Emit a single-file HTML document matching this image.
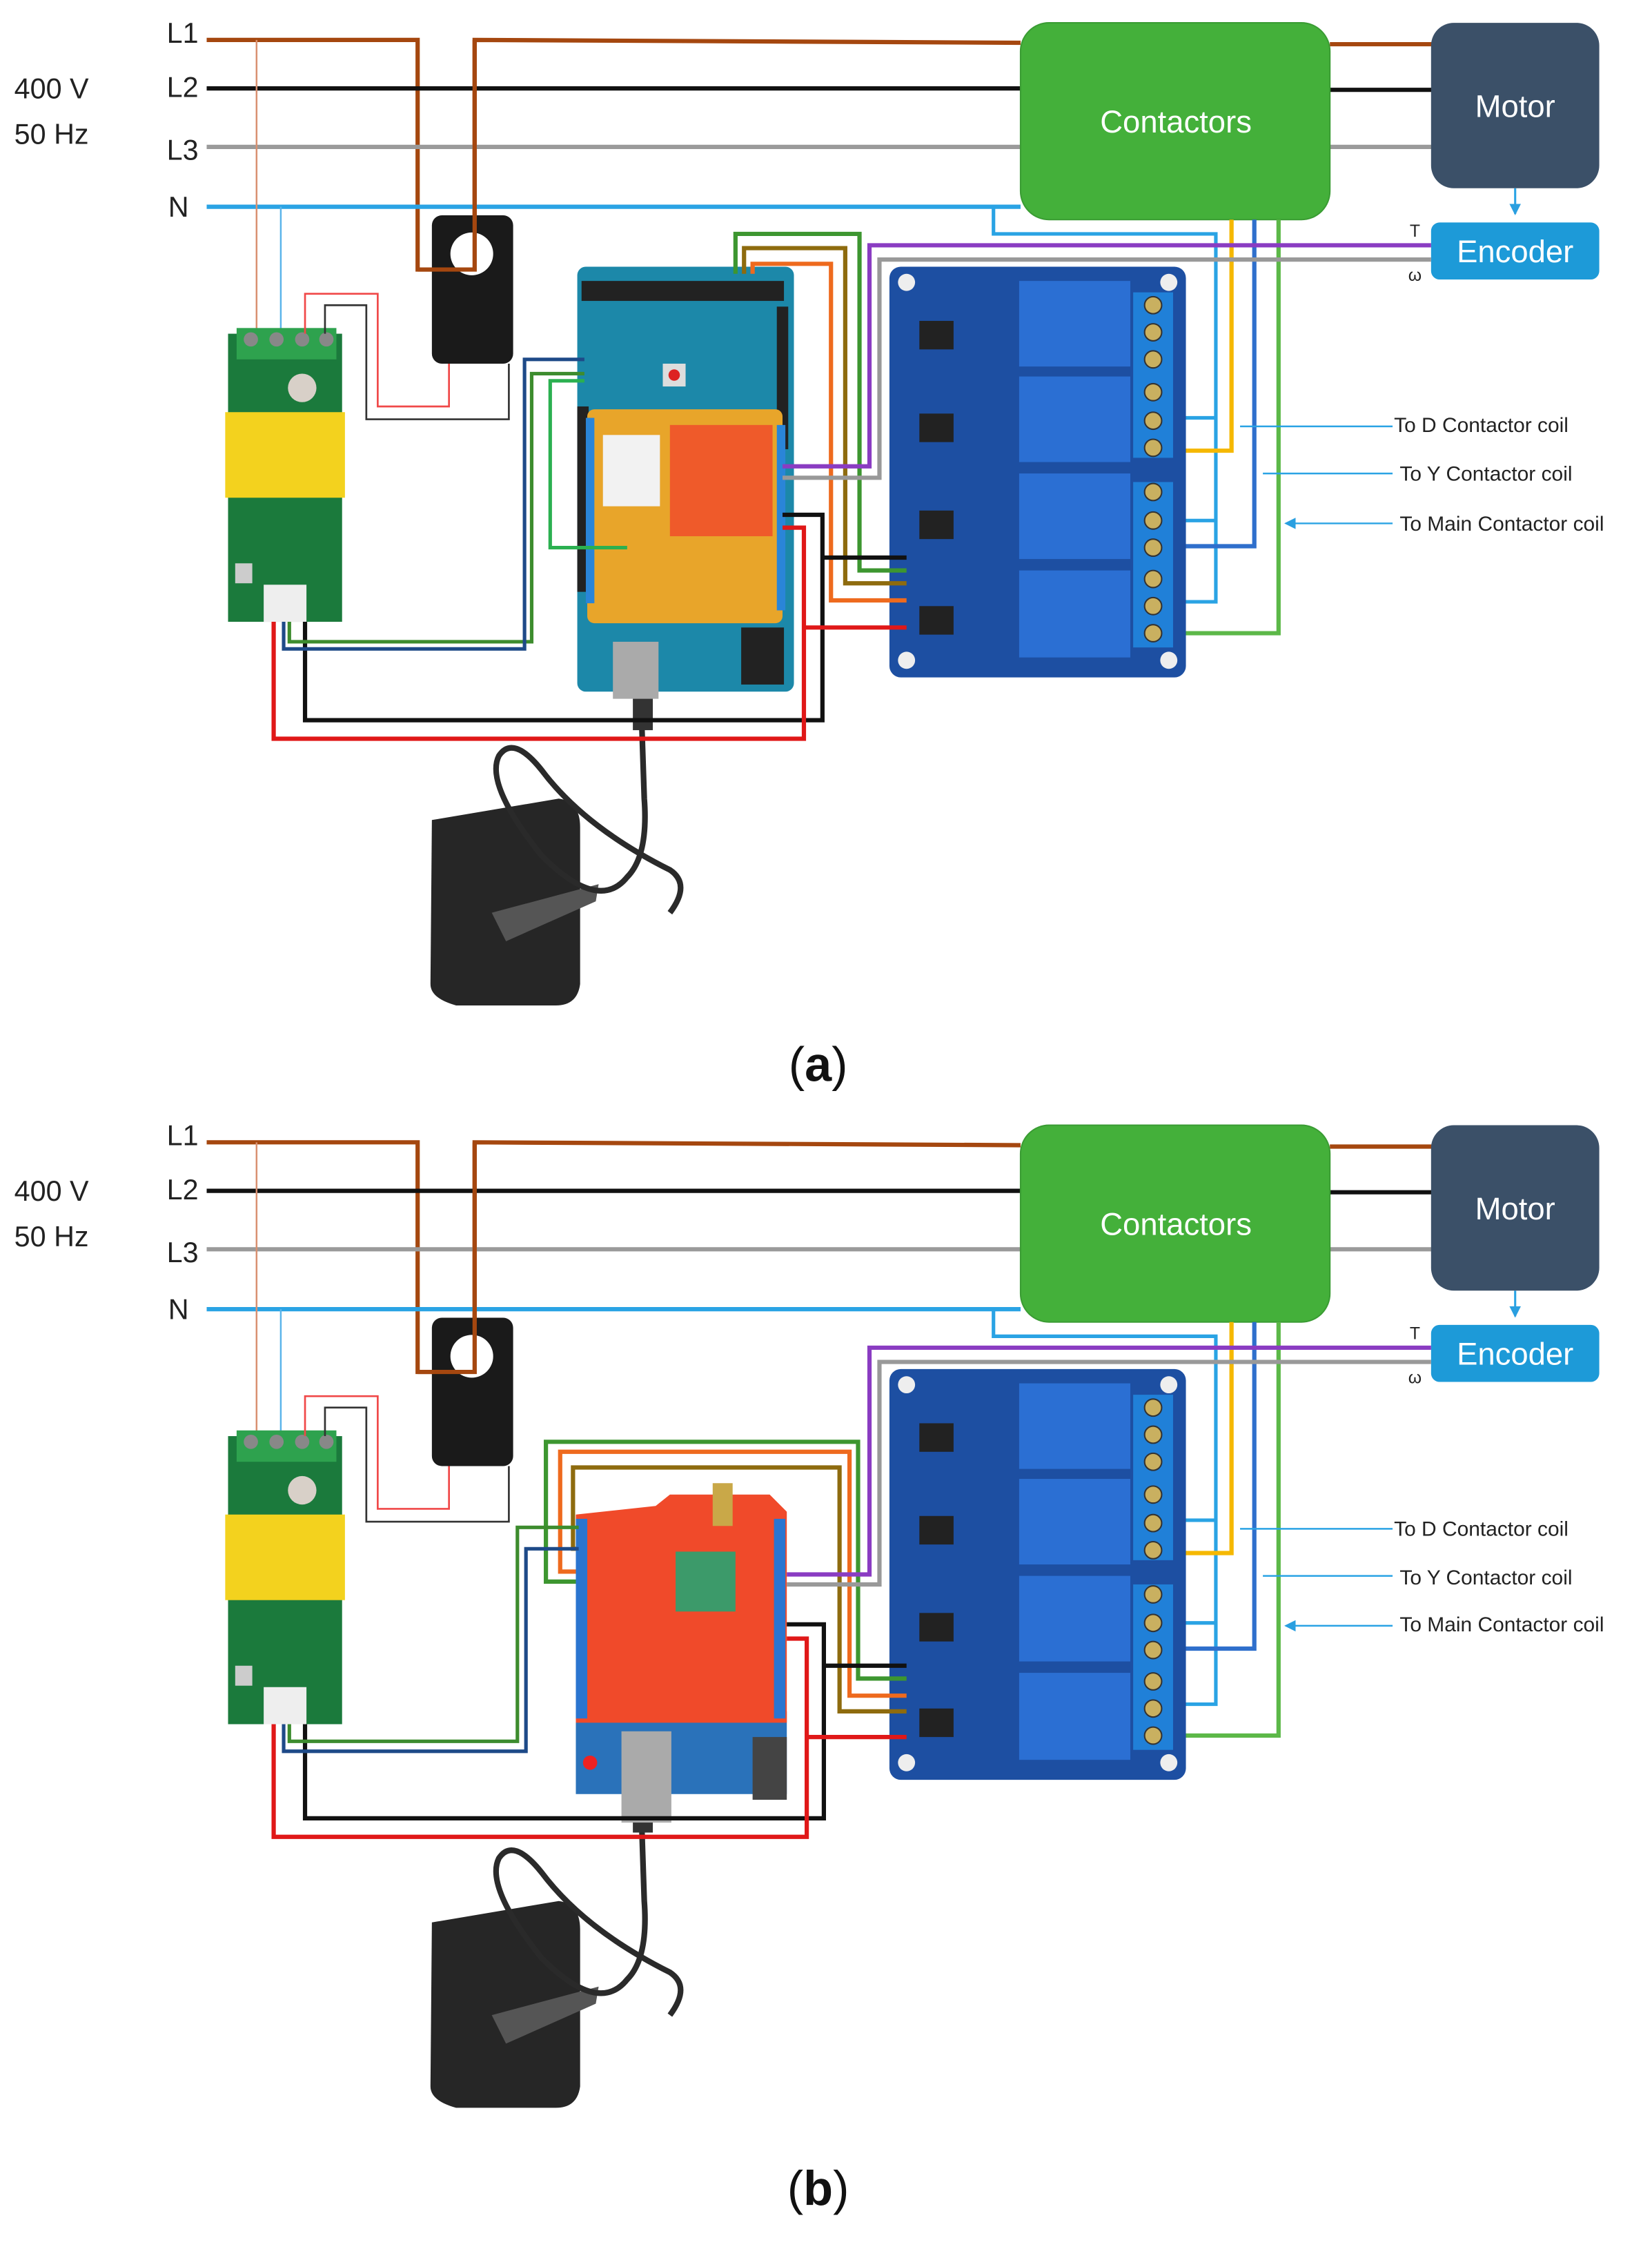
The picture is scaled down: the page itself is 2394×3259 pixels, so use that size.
<!DOCTYPE html>
<html><head><meta charset="utf-8"><style>
html,body{margin:0;padding:0;background:#fff}
svg{display:block}
text{font-family:"Liberation Sans",sans-serif}
</style></head><body>
<svg width="2394" height="3259" viewBox="0 0 1159 1577" preserveAspectRatio="none" xmlns="http://www.w3.org/2000/svg">
<defs>
<marker id="ar" markerWidth="8" markerHeight="8" refX="7" refY="4" orient="auto" markerUnits="userSpaceOnUse"><path d="M0,0 L8,4 L0,8 z" fill="#2a9fe0"/></marker>
<g id="common">
  <!-- power lines -->
  <path d="M145 28 H293 V189 H333 V28 L716 30" fill="none" stroke="#a5470f" stroke-width="3"/>
  <path d="M933 31 H1005" stroke="#a5470f" stroke-width="3"/>
  <path d="M145 62 H716 M933 63 H1005" stroke="#111" stroke-width="3"/>
  <path d="M145 103 H716 M933 103 H1005" stroke="#9a9a9a" stroke-width="3"/>
  <path d="M145 145 H716" stroke="#2aa3e4" stroke-width="3"/>
  <path d="M180 28 V234" stroke="#d89070" stroke-width="1.2"/>
  <path d="M197 145 V234" stroke="#5ab4ea" stroke-width="1.2"/>
  <!-- blocks -->
  <rect x="716" y="16" width="217" height="138" rx="20" fill="#44b03a" stroke="#3a9c33"/>
  <rect x="1004" y="16" width="118" height="116" rx="16" fill="#3b5068"/>
  <rect x="1004" y="156" width="118" height="40" rx="6" fill="#1d9ad8"/>
  <path d="M1063 132 V150" stroke="#2aa3e4" stroke-width="1.5" marker-end="url(#ar)"/>
  <!-- N branch and coil wires -->
  <path d="M697 145 V164 H853 V422 H820 M853 293 H820 M853 365 H820" fill="none" stroke="#2aa3e4" stroke-width="2.5"/>
  <path d="M864 154 V316 H812" fill="none" stroke="#f5b800" stroke-width="3"/>
  <path d="M880 154 V383 H812" fill="none" stroke="#2f6fcc" stroke-width="3"/>
  <path d="M897 154 V444 H812" fill="none" stroke="#5cb848" stroke-width="3"/>
  <path d="M977 299 H870 M977 332 H886 M977 367 H902" stroke="#2aa3e4" stroke-width="1.2" marker-end="url(#ar)"/>
  <!-- PZEM -->
  <rect x="160" y="234" width="80" height="202" fill="#1b7a3c"/>
  <rect x="166" y="230" width="70" height="22" fill="#2ea24e"/>
  <circle cx="176" cy="238" r="5" fill="#888"/><circle cx="194" cy="238" r="5" fill="#888"/><circle cx="212" cy="238" r="5" fill="#888"/><circle cx="229" cy="238" r="5" fill="#888"/>
  <circle cx="212" cy="272" r="10" fill="#d8d0c8"/>
  <rect x="158" y="289" width="84" height="60" fill="#f3d21e"/>
  <rect x="185" y="410" width="30" height="26" fill="#eee"/>
  <rect x="165" y="395" width="12" height="14" fill="#ccc"/>
  <!-- CT -->
  <rect x="303" y="151" width="57" height="104" rx="7" fill="#1a1a1a"/>
  <circle cx="331" cy="178" r="15" fill="#fff"/>
  <path d="M293 189 H333 V28" fill="none" stroke="#a5470f" stroke-width="3"/>
  <!-- thin wires -->
  <path d="M214 234 V206 H265 V285 H315 V255" fill="none" stroke="#f04848" stroke-width="1.3"/>
  <path d="M228 234 V214 H257 V294 H357 V255" fill="none" stroke="#333" stroke-width="1.3"/>
  <!-- relay board -->
  <rect x="624" y="187" width="208" height="288" rx="8" fill="#1d4fa2"/>
  <rect x="715" y="197" width="78" height="60" fill="#2b6fd3"/>
  <rect x="715" y="264" width="78" height="60" fill="#2b6fd3"/>
  <rect x="715" y="332" width="78" height="60" fill="#2b6fd3"/>
  <rect x="715" y="400" width="78" height="61" fill="#2b6fd3"/>
  <rect x="795" y="205" width="28" height="116" fill="#2080d8"/>
  <rect x="795" y="338" width="28" height="116" fill="#2080d8"/>
  <g fill="#c9b060" stroke="#333" stroke-width="1">
    <circle cx="809" cy="214" r="6"/><circle cx="809" cy="233" r="6"/><circle cx="809" cy="252" r="6"/>
    <circle cx="809" cy="275" r="6"/><circle cx="809" cy="295" r="6"/><circle cx="809" cy="314" r="6"/>
    <circle cx="809" cy="345" r="6"/><circle cx="809" cy="365" r="6"/><circle cx="809" cy="384" r="6"/>
    <circle cx="809" cy="406" r="6"/><circle cx="809" cy="425" r="6"/><circle cx="809" cy="444" r="6"/>
  </g>
  <g fill="#222"><rect x="645" y="225" width="24" height="20"/><rect x="645" y="290" width="24" height="20"/><rect x="645" y="358" width="24" height="20"/><rect x="645" y="425" width="24" height="20"/></g>
  <g fill="#eee"><circle cx="636" cy="198" r="6"/><circle cx="820" cy="198" r="6"/><circle cx="636" cy="463" r="6"/><circle cx="820" cy="463" r="6"/></g>
  <!-- adapter -->
  <path d="M303 575 L392 560 Q407 562 407 580 L407 690 Q405 705 390 705 L320 705 Q302 700 302 690 Z" fill="#262626"/>
  <path d="M345 640 L420 620 L418 632 L355 660 Z" fill="#555"/>
  <path d="M450 500 L452 560 Q455 600 440 615 Q420 640 380 600 Q340 550 350 530 Q360 515 380 540 Q410 580 470 610 Q485 620 470 640" fill="none" stroke="#2a2a2a" stroke-width="4"/>
  <rect x="444" y="487" width="14" height="25" fill="#333"/>
</g>
</defs>

<!-- ================= PANEL A ================= -->
<use href="#common"/>
<!-- Arduino MEGA -->
<rect x="405" y="187" width="152" height="298" rx="6" fill="#1c88a9"/>
<rect x="408" y="197" width="142" height="14" fill="#222"/>
<rect x="405" y="285" width="8" height="130" fill="#222"/>
<rect x="545" y="215" width="8" height="100" fill="#222"/>
<rect x="465" y="255" width="16" height="16" fill="#ddd"/><circle cx="473" cy="263" r="4" fill="#d22"/>
<rect x="412" y="287" width="137" height="150" rx="5" fill="#e8a52a"/>
<rect x="470" y="298" width="72" height="78" fill="#ef5a2a"/>
<rect x="423" y="305" width="40" height="50" fill="#f2f2f2"/>
<rect x="411" y="293" width="6" height="130" fill="#2a85d8"/>
<rect x="545" y="298" width="6" height="130" fill="#2a85d8"/>
<rect x="430" y="450" width="32" height="40" fill="#aaa"/>
<rect x="520" y="440" width="30" height="40" fill="#222"/>
<!-- arduino wires a -->
<path d="M516 192 V164 H603 V400 H636" fill="none" stroke="#3d9630" stroke-width="3"/>
<path d="M522 192 V174 H593 V409 H636" fill="none" stroke="#8e6b0e" stroke-width="3"/>
<path d="M528 192 V185 H583 V421 H636" fill="none" stroke="#ee6a1e" stroke-width="3"/>
<path d="M1004 172 H610 V327 H549" fill="none" stroke="#8a3cc2" stroke-width="3"/>
<path d="M1004 182 H617 V335 H549" fill="none" stroke="#999" stroke-width="3"/>
<path d="M549 361 H577 V505 H214 V436 M577 391 H636" fill="none" stroke="#111" stroke-width="3"/>
<path d="M549 370 H564 V518 H192 V436 M564 440 H636" fill="none" stroke="#e01818" stroke-width="3"/>
<path d="M203 436 V450 H373 V262 H410" fill="none" stroke="#3d8c2e" stroke-width="2.5"/>
<path d="M199 436 V455 H368 V252 H410" fill="none" stroke="#1e4a88" stroke-width="2.5"/>
<path d="M410 267 H386 V384 H440" fill="none" stroke="#2bb050" stroke-width="2.5"/>

<!-- ================= PANEL B ================= -->
<g transform="translate(0,773)">
<use href="#common"/>
</g>
<!-- Arduino UNO -->
<rect x="404" y="1200" width="148" height="58" fill="#2a72ba"/>
<path d="M404 1062 L460 1056 L470 1048 L540 1048 L552 1060 L552 1208 L404 1208 Z" fill="#f04a2a"/>
<rect x="404" y="1065" width="8" height="140" fill="#2a75d0"/>
<rect x="543" y="1065" width="8" height="140" fill="#2a75d0"/>
<rect x="474" y="1088" width="42" height="42" fill="#3c9a6a"/>
<rect x="500" y="1040" width="14" height="30" fill="#c9a848"/>
<circle cx="414" cy="1236" r="5" fill="#e22"/>
<rect x="436" y="1214" width="35" height="64" fill="#aaa"/>
<rect x="528" y="1218" width="24" height="44" fill="#444"/>
<!-- arduino wires b -->
<path d="M404 1109 H383 V1011 H602 V1177 H636" fill="none" stroke="#3d9630" stroke-width="3"/>
<path d="M404 1102 H393 V1018 H596 V1189 H636" fill="none" stroke="#ee6a1e" stroke-width="3"/>
<path d="M404 1086 H402 V1029 H589 V1200 H636" fill="none" stroke="#8e6b0e" stroke-width="3"/>
<path d="M1004 945 H610 V1104 H552" fill="none" stroke="#8a3cc2" stroke-width="3"/>
<path d="M1004 955 H617 V1111 H552" fill="none" stroke="#999" stroke-width="3"/>
<path d="M552 1139 H578 V1275 H214 V1209 M578 1168 H636" fill="none" stroke="#111" stroke-width="3"/>
<path d="M552 1149 H566 V1288 H192 V1209 M566 1218 H636" fill="none" stroke="#e01818" stroke-width="3"/>
<path d="M203 1209 V1221 H363 V1071 H406" fill="none" stroke="#3d8c2e" stroke-width="2.5"/>
<path d="M199 1209 V1228 H369 V1086 H406" fill="none" stroke="#1e4a88" stroke-width="2.5"/>

<!-- ================= TEXT ================= -->
<g fill="#222" font-size="20">
<text x="117" y="30">L1</text><text x="117" y="68">L2</text><text x="117" y="112">L3</text><text x="118" y="152">N</text>
<text x="10" y="69">400 V</text><text x="10" y="101">50 Hz</text>
<text x="117" y="803">L1</text><text x="117" y="841">L2</text><text x="117" y="885">L3</text><text x="118" y="925">N</text>
<text x="10" y="842">400 V</text><text x="10" y="874">50 Hz</text>
</g>
<g fill="#fff" font-size="22" text-anchor="middle">
<text x="825" y="93">Contactors</text><text x="1063" y="82">Motor</text><text x="1063" y="184">Encoder</text>
<text x="825" y="866">Contactors</text><text x="1063" y="855">Motor</text><text x="1063" y="957">Encoder</text>
</g>
<g fill="#222" font-size="12">
<text x="989" y="166">T</text><text x="988" y="197">ω</text>
<text x="989" y="939">T</text><text x="988" y="970">ω</text>
</g>
<g fill="#222" font-size="14.5">
<text x="978" y="303">To D Contactor coil</text><text x="982" y="337">To Y Contactor coil</text><text x="982" y="372">To Main Contactor coil</text>
<text x="978" y="1077">To D Contactor coil</text><text x="982" y="1111">To Y Contactor coil</text><text x="982" y="1144">To Main Contactor coil</text>
</g>
<g fill="#111" font-size="34" text-anchor="middle" style="font-family:'Liberation Serif',serif">
<text x="574" y="758">(<tspan font-weight="bold">a</tspan>)</text>
<text x="574" y="1546">(<tspan font-weight="bold">b</tspan>)</text>
</g>
</svg>
</body></html>
